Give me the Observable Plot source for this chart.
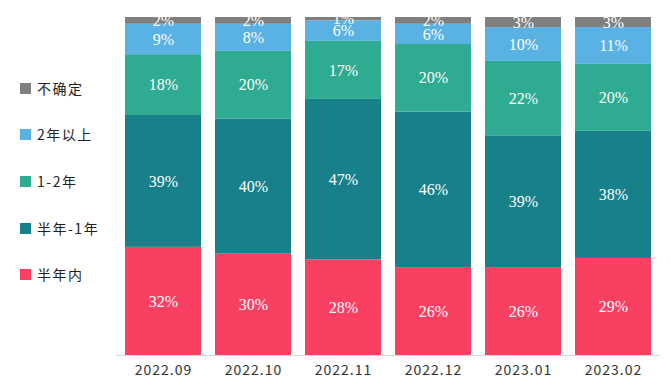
<!DOCTYPE html>
<html><head><meta charset="utf-8">
<script src="https://cdn.jsdelivr.net/npm/d3@7"></script>
<script src="https://cdn.jsdelivr.net/npm/@observablehq/plot@0.6"></script>
<style>
html,body{margin:0;padding:0;background:#fff;}
#wrap{position:relative;width:671px;height:389px;}
#legend{position:absolute;left:20px;top:0;font-family:"Noto Sans CJK SC",sans-serif;font-size:14px;letter-spacing:1.5px;color:#222;}
.item{position:absolute;left:0;display:flex;align-items:center;white-space:nowrap;height:18px;}
.sw{width:11px;height:11px;margin-right:6px;}
</style></head>
<body><div id="wrap"><div id="legend"></div></div>
<script>
const months = ["2022.09","2022.10","2022.11","2022.12","2023.01","2023.02"];
const categories = ["半年内","半年-1年","1-2年","2年以上","不确定"];
const colors = ["#f94062","#17808a","#2eab91","#5ab1e3","#7f7f7f"];
const v_half = [32,30,28,26,26,29];
const v_half1 = [39,40,47,46,39,38];
const v_1to2 = [18,20,17,20,22,20];
const v_2plus = [9,8,6,6,10,11];
const v_unsure = [2,2,1,2,3,3];
const series = [v_half,v_half1,v_1to2,v_2plus,v_unsure];
const legendOrder = ["不确定","2年以上","1-2年","半年-1年","半年内"];

const data = [];
months.forEach((m,i)=>categories.forEach((c,j)=>data.push({month:m,cat:c,value:series[j][i]})));

const stackOpts = {x:"month", y:"value", z:"cat", order:categories, offset:"normalize"};
const chart = Plot.plot({
  width:671, height:389,
  marginLeft:116, marginRight:11, marginTop:17, marginBottom:34,
  x:{domain:months, paddingInner:0.16, paddingOuter:0.1, label:null, tickSize:0, tickPadding:10},
  y:{domain:[0,1], axis:null},
  color:{domain:categories, range:colors},
  style:{fontFamily:"'Noto Sans CJK SC',sans-serif", fontSize:"14px", color:"#333", background:"#fff"},
  marks:[
    Plot.barY(data, Plot.stackY({...stackOpts, fill:"cat"})),
    Plot.text(data, Plot.stackY({...stackOpts, y:"value", text:d=>d.value+"%", fill:"white", fontFamily:"'Liberation Serif',serif", fontSize:16, clip:true})),
    Plot.ruleY([0], {stroke:"#d9d9d9", strokeWidth:1})
  ]
});
document.getElementById("wrap").appendChild(chart);
chart.style.position="absolute"; chart.style.left="0"; chart.style.top="0";
chart.querySelectorAll('g[aria-label="x-axis tick label"] text').forEach(t=>{ t.style.letterSpacing="1px"; });
const lg = document.getElementById("legend");
const ys = [88,134,181,228,274];
legendOrder.forEach((c,i)=>{
  const d=document.createElement("div"); d.className="item"; d.style.top=(ys[i]-9)+"px";
  const s=document.createElement("span"); s.className="sw"; s.style.background=colors[categories.indexOf(c)];
  d.appendChild(s); d.appendChild(document.createTextNode(c)); lg.appendChild(d);
});
document.getElementById("wrap").appendChild(lg);
</script></body></html>
